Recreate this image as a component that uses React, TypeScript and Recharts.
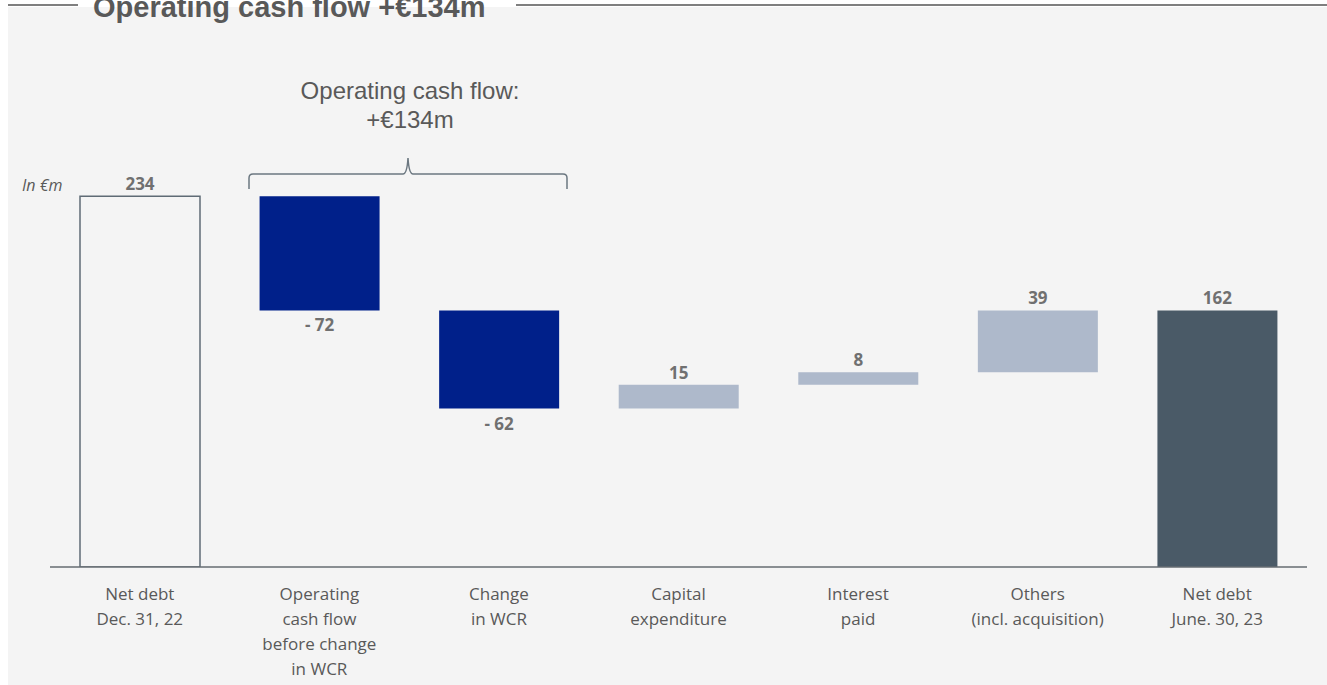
import React from 'react';
import { BarChart, Bar, XAxis, YAxis, Cell, LabelList } from 'recharts';

const categories = [
  'Net debt\nDec. 31, 22',
  'Operating\ncash flow\nbefore change\nin WCR',
  'Change\nin WCR',
  'Capital\nexpenditure',
  'Interest\npaid',
  'Others\n(incl. acquisition)',
  'Net debt\nJune. 30, 23',
];
// net debt movements, in €m (first and last are totals)
const movements = [234, -72, -62, 15, 8, 39, 162];
const isTotal = [true, false, false, false, false, false, true];
const valueLabels = ['234', '- 72', '- 62', '15', '8', '39', '162'];
const barColors = ['none', '#00208a', '#00208a', '#aeb9cb', '#aeb9cb', '#aeb9cb', '#4a5a67'];

const W = 1327;
const H = 685;

let running = 0;
const data = categories.map((name, i) => {
  const v = movements[i];
  let base = 0;
  let size = v;
  if (isTotal[i]) {
    running = v;
  } else if (v < 0) {
    base = running + v;
    size = -v;
    running += v;
  } else {
    base = running;
    running += v;
  }
  return { name, base, size, label: valueLabels[i], neg: v < 0 && !isTotal[i] };
});

const CategoryTick = (props: any) => {
  const { x, y, payload } = props;
  const lines = String(payload.value).split('\n');
  return (
    <text x={x} y={y} textAnchor="middle" fill="#595959" fontSize={17} fontFamily="'Open Sans', sans-serif">
      {lines.map((l, i) => (
        <tspan key={i} x={x} y={y + 25 + i * 25}>
          {l}
        </tspan>
      ))}
    </text>
  );
};

const ValueLabel = (props: any) => {
  const { x, y, width, height, index } = props;
  const d = data[index];
  const cx = x + width / 2;
  const ty = d.neg ? y + height + 21 : y - 6;
  return (
    <text x={cx} y={ty} textAnchor="middle" fill="#707070" fontSize={17} fontWeight={700} fontFamily="'Open Sans', sans-serif">
      {d.label}
    </text>
  );
};

export default function App() {
  return (
    <div style={{ position: 'absolute', left: 0, top: 0, width: W, height: H, background: '#fff', overflow: 'hidden' }}>
      <div style={{ position: 'absolute', left: 8, top: 7, width: W - 8, height: H - 7, background: '#f4f4f4' }} />
      <div style={{ position: 'absolute', left: 0, top: 0 }}>
        <BarChart width={W} height={H} data={data} margin={{ top: 171, right: 20, bottom: 0, left: 50 }} barSize={120}>
          <XAxis
            dataKey="name"
            interval={0}
            height={118}
            tickLine={false}
            axisLine={{ stroke: '#666c72', strokeWidth: 1.5 }}
            tick={<CategoryTick />}
          />
          <YAxis hide domain={[0, 250]} allowDataOverflow />
          <Bar dataKey="base" stackId="w" fill="transparent" isAnimationActive={false} />
          <Bar dataKey="size" stackId="w" isAnimationActive={false}>
            {data.map((d, i) => (
              <Cell
                key={i}
                fill={barColors[i]}
                stroke={i === 0 ? '#5f6b75' : 'none'}
                strokeWidth={i === 0 ? 1.5 : 0}
              />
            ))}
            <LabelList dataKey="label" content={<ValueLabel />} />
          </Bar>
        </BarChart>
      </div>
      <svg width={W} height={H} style={{ position: 'absolute', left: 0, top: 0, pointerEvents: 'none' }}>
        <line x1={8} y1={5} x2={78} y2={5} stroke="#555" strokeWidth={1.5} />
        <line x1={516} y1={5} x2={W} y2={5} stroke="#555" strokeWidth={1.5} />
        <text x={93} y={17} fill="#595959" fontSize={29} fontWeight={700} fontFamily="'Liberation Sans', Arial, sans-serif">
          Operating cash flow +€134m
        </text>
        <text x={410} y={99} textAnchor="middle" fill="#595959" fontSize={24} fontFamily="'Liberation Sans', Arial, sans-serif">
          Operating cash flow:
        </text>
        <text x={410} y={128} textAnchor="middle" fill="#595959" fontSize={24} fontFamily="'Liberation Sans', Arial, sans-serif">
          +€134m
        </text>
        <path
          d="M249,189 L249,178 Q249,174 253,174 L403,174 Q407,174 408,158 Q409,174 413,174 L563,174 Q567,174 567,178 L567,189"
          fill="none"
          stroke="#6b7780"
          strokeWidth={1.5}
        />
        <text x={22} y={191} fill="#595959" fontSize={16} fontStyle="italic" fontFamily="'Open Sans', sans-serif">
          In €m
        </text>
      </svg>
    </div>
  );
}
